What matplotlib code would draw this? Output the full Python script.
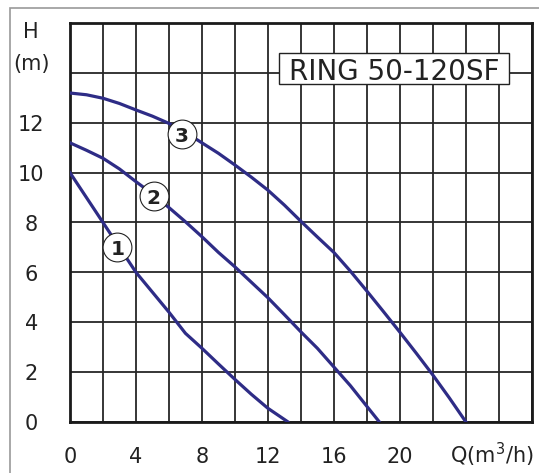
import numpy as np
import matplotlib.pyplot as plt
from matplotlib.patches import Rectangle

# pump curves: flow Q (m3/h), head H (m)
q1 = [0, 1, 2, 3, 4, 5, 6, 7, 8, 9, 10, 11, 12, 13.2]
h1 = [10, 9.0, 8.0, 7.0, 6.0, 5.2, 4.4, 3.55, 2.95, 2.32, 1.7, 1.1, 0.54, 0]

q2 = [0, 1, 2, 3, 4, 5, 6, 7, 8, 9, 10, 11, 12, 13, 14, 15, 16, 17, 18, 18.75]
h2 = [11.2, 10.9, 10.58, 10.15, 9.64, 9.15, 8.6, 8.03, 7.43, 6.8, 6.22, 5.6, 4.98,
      4.3, 3.61, 2.95, 2.2, 1.45, 0.62, 0]

q3 = [0, 1, 2, 3, 4, 5, 6, 7, 8, 9, 10, 11, 12, 13, 14, 15, 16, 17, 18, 19, 20,
      21, 22, 23, 24]
h3 = [13.2, 13.13, 12.99, 12.78, 12.52, 12.27, 11.98, 11.62, 11.2, 10.78, 10.31,
      9.82, 9.3, 8.7, 8.05, 7.42, 6.8, 6.05, 5.25, 4.43, 3.6, 2.75, 1.88, 0.96, 0]

# circled curve numbers
tag_q = [2.88, 5.08, 6.77]
tag_h = [7.0, 9.05, 11.55]
tag_txt = ['1', '2', '3']

xtick_vals = [0, 4, 8, 12, 16, 20]
ytick_vals = [0, 2, 4, 6, 8, 10, 12]
model = 'RING 50-120SF'

fig = plt.figure(figsize=(5.39, 4.73), dpi=100)
ax = fig.add_axes([70 / 539, 1 - 421.7 / 473, (531.7 - 70) / 539, (421.7 - 23.3) / 473])

line_col = '#2e2c86'
txt_col = '#222222'
for q, h in [(q1, h1), (q2, h2), (q3, h3)]:
    ax.plot(q, h, color=line_col, lw=2.3, zorder=3)

ax.scatter(tag_q, tag_h, s=430, facecolor='white', edgecolor='#222222', lw=0.8, zorder=4)
for x, y, t in zip(tag_q, tag_h, tag_txt):
    ax.text(x, y, t, ha='center', va='center_baseline', fontsize=14.5, fontweight='bold',
            color=txt_col, zorder=5)

ax.set_xlim(0, 28)
ax.set_ylim(0, 16)
ax.set_xticks(np.arange(0, 29, 2))
ax.set_yticks(np.arange(0, 17, 2))
ax.grid(True, color='#262626', lw=1.3)
ax.set_axisbelow(True)
ax.tick_params(length=0, labelbottom=False, labelleft=False)
for sp in ax.spines.values():
    sp.set_linewidth(2.0)
    sp.set_color('#1a1a1a')

# tick labels placed by hand, centred like the original
for v in xtick_vals:
    ax.text(v, -1.66, str(v), ha='center', va='baseline', fontsize=15,
            color=txt_col, clip_on=False)
for v in ytick_vals:
    ax.text(-2.35, v - 0.33, str(v), ha='center', va='baseline', fontsize=15,
            color=txt_col, clip_on=False)
ax.text(-2.35, 15.39, 'H', ha='center', va='baseline', fontsize=15, color=txt_col, clip_on=False)
ax.text(-2.35, 14.12, '(m)', ha='center', va='baseline', fontsize=15, color=txt_col, clip_on=False)
ax.text(23.03, -1.66, 'Q(m$^3$/h)', ha='left', va='baseline', fontsize=15,
        color=txt_col, clip_on=False)

# model name in its white box
ax.add_patch(Rectangle((12.68, 13.56), 13.94, 1.26, facecolor='white', edgecolor='#222222',
                       lw=1.0, zorder=5))
ax.text(19.65, 13.72, model, ha='center', va='baseline', fontsize=20, color=txt_col, zorder=6)

# light outer frame, cut by the image edge
fig.add_artist(Rectangle((10 / 539, -0.1), 1.2, 1 - 8 / 473 + 0.1, transform=fig.transFigure,
                         fill=False, edgecolor='#999999', lw=1.2))

fig.savefig('out.png', dpi=100)
